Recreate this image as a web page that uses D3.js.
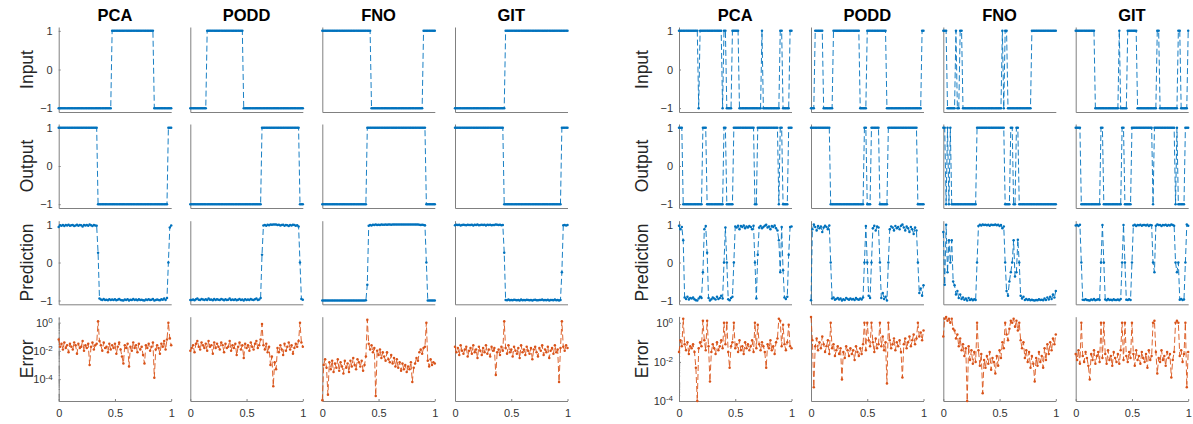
<!DOCTYPE html>
<html>
<head>
<meta charset="utf-8">
<script src="https://cdn.jsdelivr.net/npm/d3@7"></script>
<style>
  body { margin: 0; background: #fff; }
  text { font-family: "Liberation Sans", Arial, Helvetica, sans-serif; }
</style>
</head>
<body>
<svg id="chart" width="1193" height="424"></svg>
<script>
// ---- data ----
var methods = ["PCA", "PODD", "FNO", "GIT"],
    rowNames = ["Input", "Output", "Prediction", "Error"],
    xTicks = [0, 0.5, 1],
    stepTicks = [-1, 0, 1],
    errTicks = [0, -2, -4],      // log10 of the error tick values
    nSamples = 81;

// step signals: starting level and the x positions where the sign flips
var leftInStart = [-1, -1, 1, -1],
    leftInFlips = [[0.47, 0.85], [0.14, 0.47], [0.43, 0.9], [0.44]],
    leftOutStart = [1, -1, -1, 1],
    leftOutFlips = [[0.345, 0.975], [0.636, 0.967], [0.395, 0.92], [0.437, 0.94]];

var rightInStart = [1, -1, 1, 1],
    rightInFlips = [
        [0.165, 0.187, 0.38, 0.40, 0.418, 0.47, 0.53, 0.73, 0.745, 0.9, 0.925, 0.98],
        [0.036, 0.104, 0.19, 0.436, 0.5, 0.668, 0.985],
        [0.036, 0.104, 0.12, 0.15, 0.172, 0.513, 0.53, 0.545, 0.57, 0.786],
        [0.17, 0.38, 0.40, 0.46, 0.54, 0.72, 0.74, 0.91, 0.93, 0.99]
    ],
    rightOutStart = [1, 1, 1, 1],
    rightOutFlips = [
        [0.035, 0.21, 0.24, 0.40, 0.42, 0.48, 0.67, 0.69, 0.88, 0.9, 0.92, 0.97],
        [0.17, 0.475, 0.49, 0.53, 0.61, 0.68, 0.94],
        [0.015, 0.03, 0.05, 0.06, 0.075, 0.29, 0.55, 0.6, 0.615, 0.65, 0.665],
        [0.04, 0.22, 0.24, 0.41, 0.43, 0.49, 0.68, 0.69, 0.88, 0.9, 0.91, 0.97]
    ];

// pointwise error, stored as 10 * log10(error), one value per sample
var leftErrPCA = [
    -12,-17,-15,-19,-14,-18,-16,-21,-15,-17,
    -19,-14,-16,-22,-15,-18,-17,-13,-20,-16,
    -18,-15,-30,-17,-14,-19,-16,-15,1,-13,
    -16,-20,-14,-18,-17,-21,-15,-19,-16,-18,
    -15,-22,-17,-14,-19,-24,-29,-16,-18,-15,
    -31,-17,-20,-14,-18,-16,-21,-15,-19,-17,
    -23,-29,-16,-18,-15,-20,-17,-14,-39,-19,
    -16,-18,-22,-15,-17,-13,-19,-12,0,-11,
    -16];
var leftErrPODD = [
    -20,-18,-16,-21,-15,-13,-17,-19,-14,-16,
    -18,-15,-20,-13,-17,-16,-22,-14,-18,-15,
    -17,-19,-14,-16,-21,-15,-18,-17,-13,-20,
    -16,-18,-15,-23,-17,-14,-19,-16,-25,-15,
    -18,-16,-20,-14,-17,-19,-15,-13,-18,-16,
    -12,-1,-16,-19,-15,-21,-17,-30,-24,-45,
    -28,-33,-18,-21,-16,-19,-23,-15,-20,-17,
    -14,-19,-16,-22,-18,-15,-17,-13,0,-14,
    -17];
var leftErrFNO = [
    -55,-30,-26,-32,-51,-28,-33,-27,-35,-29,
    -32,-26,-34,-28,-31,-36,-27,-32,-29,-35,
    -27,-31,-25,-30,-33,-26,-28,-31,-27,-34,
    -30,-24,2,-15,-19,-16,-21,-18,-52,-20,
    -23,-19,-25,-21,-24,-27,-21,-26,-28,-23,
    -29,-25,-31,-26,-32,-28,-34,-29,-33,-30,
    -35,-31,-33,-28,-42,-32,-29,-25,-27,-21,
    -19,-22,-18,-17,0,-27,-31,-26,-30,-28,
    -29];
var leftErrGIT = [
    -17,-21,-18,-23,-16,-20,-22,-19,-17,-24,
    -20,-18,-22,-16,-21,-19,-25,-17,-20,-23,
    -18,-21,-16,-22,-19,-24,-17,-20,-18,-37,
    -21,-19,-23,-17,-20,1,-18,-22,-16,-21,
    -19,-24,-17,-20,-22,-18,-25,-16,-21,-19,
    -23,-17,-20,-22,-18,-26,-19,-17,-21,-24,
    -18,-20,-16,-23,-19,-21,-17,-25,-20,-18,
    -22,-16,-21,-19,-42,-18,1,-17,-20,-16,
    -18];

var rightErrPCA = [
    -15,-9,-12,2,-11,-14,-10,-16,-12,-13,
    -11,-15,-23,-40,-13,-10,-12,1,-9,-14,
    1,-12,-30,-15,-11,-13,-16,-10,-14,-12,
    -9,-13,0,-11,0,-15,-23,-12,-10,0,
    -13,-11,-15,-9,-14,-12,-16,-10,-13,-11,
    -14,-12,-9,-15,0,-13,-1,-11,-14,-10,
    -12,-15,-23,-11,-13,-9,-14,-12,-16,-10,
    -8,2,1,-12,-1,-11,-14,-10,-1,-12,
    -13];
var rightErrPODD = [
    3,-9,-33,-12,-8,-14,-10,-13,-7,-11,
    -15,-12,-9,-16,0,-13,-11,-17,-14,-12,
    -16,-13,-29,-15,-18,-12,-14,-17,-13,-16,
    -14,-19,-12,-15,-17,-13,-16,-11,0,-14,
    0,-9,-12,0,-10,-15,-8,-13,-11,0,
    -12,-7,-14,-10,-31,0,-9,-13,-11,-8,
    -14,-10,-12,-9,-15,-28,-11,-8,-13,-10,
    -7,-12,-9,-6,-11,-8,0,-7,-5,-9,
    -4];
var rightErrFNO = [
    -7,2,3,1,2,0,2,-3,-4,-8,
    -6,-12,-8,-14,-11,-17,-13,-40,-12,-19,
    -14,-21,-15,-20,0,-14,-22,-16,-36,-19,
    -23,-17,-21,-15,-24,-18,-20,-26,-17,-22,
    -14,-18,-10,-13,0,-6,-9,-3,1,0,
    2,-2,1,-4,0,-9,-13,-10,-18,-14,
    -20,-15,-23,-17,-21,-30,-18,-22,-15,-20,
    -17,-23,-13,-19,-11,-16,-10,-14,-8,-11,
    -6];
var rightErrGIT = [
    -16,-19,-14,-21,0,-17,-20,-15,-18,-22,
    -29,-16,-19,-14,-21,-17,-15,-20,0,-18,
    0,-16,-21,-14,-19,-17,-22,-15,-18,-20,
    -16,-21,-14,0,-19,0,-17,-20,-15,-18,
    0,-16,-22,-14,-19,-17,-21,-15,-18,-20,
    -16,-23,-14,-19,-17,0,1,-15,-26,-18,
    -20,-14,-19,-17,-22,-15,-18,-16,-28,-19,
    -15,0,1,0,-17,-14,-20,-16,0,-33,
    -15];

// ---- layout ----
var svg = d3.select("#chart"),
    blue = "#0072BD",
    orange = "#D95319",
    axisColor = "#808080",
    labelColor = "#333",
    colW = 112.5,
    rowTop = [27, 124, 220.7, 316.7],
    rowH = [85, 84, 83.6, 84.3];

var panels = [
    { colX: [58.7, 190.3, 322.3, 455], labelX: 33, errLog: [-5.55, 0.42],
      inStart: leftInStart, inFlips: leftInFlips, outStart: leftOutStart, outFlips: leftOutFlips,
      err: [leftErrPCA, leftErrPODD, leftErrFNO, leftErrGIT] },
    { colX: [679, 811, 943.3, 1075.7], labelX: 648, errLog: [-4, 0.31],
      inStart: rightInStart, inFlips: rightInFlips, outStart: rightOutStart, outFlips: rightOutFlips,
      err: [rightErrPCA, rightErrPODD, rightErrFNO, rightErrGIT] }
];

var tGrid = d3.range(nSamples).map(function (i) { return i / (nSamples - 1); });

function sampleStep(start, flips) {
    return tGrid.map(function (t) {
        var n = flips.filter(function (f) { return f <= t; }).length;
        return n % 2 ? -start : start;
    });
}

function drawSeries(g, vals, x, y, color) {
    var pts = tGrid.map(function (t, i) { return [x(t), y(vals[i])]; });
    g.append("path")
        .attr("d", d3.line()(pts))
        .attr("fill", "none")
        .attr("stroke", color)
        .attr("stroke-width", 0.9)
        .attr("stroke-dasharray", "6,3");
    g.selectAll(null).data(pts).enter().append("circle")
        .attr("cx", function (d) { return d[0]; })
        .attr("cy", function (d) { return d[1]; })
        .attr("r", 1.25)
        .attr("fill", color);
}

function styleAxis(sel) {
    sel.select(".domain").attr("stroke", axisColor);
    sel.selectAll(".tick line").attr("stroke", axisColor);
    sel.selectAll(".tick text").attr("fill", labelColor).attr("font-size", 11)
        .attr("font-family", "\"Liberation Sans\", Arial, sans-serif");
}

panels.forEach(function (p) {
    // titles
    methods.forEach(function (m, c) {
        svg.append("text")
            .attr("x", p.colX[c] + colW / 2).attr("y", 20.5)
            .attr("text-anchor", "middle")
            .attr("font-size", 16.5).attr("font-weight", "bold")
            .attr("fill", "#000")
            .text(m);
    });
    // row labels
    rowNames.forEach(function (name, r) {
        var cy = rowTop[r] + rowH[r] / 2;
        svg.append("text")
            .attr("transform", "translate(" + p.labelX + "," + cy + ") rotate(-90)")
            .attr("text-anchor", "middle")
            .attr("font-size", 17.5)
            .attr("fill", "#262626")
            .text(name);
    });

    methods.forEach(function (m, c) {
        var x0 = p.colX[c],
            x = d3.scaleLinear().domain([0, 1]).range([x0, x0 + colW]),
            input = sampleStep(p.inStart[c], p.inFlips[c]),
            output = sampleStep(p.outStart[c], p.outFlips[c]),
            err = p.err[c].map(function (v) { return Math.pow(10, v / 10); }),
            pred = output.map(function (o, i) { return o * (1 - err[i]); }),
            rows = [input, output, pred];

        for (var r = 0; r < 4; r++) {
            var top = rowTop[r], bot = rowTop[r] + rowH[r],
                g = svg.append("g"),
                y;
            if (r < 3) {
                y = d3.scaleLinear().domain([-1.1, 1.1]).range([bot, top]);
            } else {
                y = d3.scaleLog().domain([Math.pow(10, p.errLog[0]), Math.pow(10, p.errLog[1])]).range([bot, top]);
            }

            // axes
            var yAx = d3.axisLeft(y).tickSizeOuter(0);
            if (c === 0 && r < 3) {
                yAx.tickValues(stepTicks).tickSizeInner(-2).tickPadding(6).tickFormat(d3.format("d"));
            } else if (c === 0) {
                yAx.tickValues(errTicks.map(function (e) { return Math.pow(10, e); }))
                    .tickSizeInner(-2).tickPadding(6).tickFormat(function () { return ""; });
            } else {
                yAx.tickValues([]);
            }
            var ya = g.append("g").attr("transform", "translate(" + x0 + ",0)").call(yAx).call(styleAxis);

            if (c === 0 && r === 3) {
                // superscript labels 10^k
                ya.selectAll(".tick").each(function (d) {
                    var t = d3.select(this).select("text").attr("dy", "0.32em");
                    t.append("tspan").text("10");
                    t.append("tspan").attr("dy", "-0.45em").attr("font-size", 8)
                        .text(String(Math.round(Math.log10(d))));
                });
                // minor ticks
                var minors = [];
                for (var k = Math.floor(p.errLog[0]); k < Math.ceil(p.errLog[1]); k++) {
                    for (var j = 2; j < 10; j++) {
                        var v = j * Math.pow(10, k);
                        if (v > Math.pow(10, p.errLog[0]) && v < Math.pow(10, p.errLog[1])) minors.push(v);
                    }
                }
                g.append("g").attr("transform", "translate(" + x0 + ",0)")
                    .call(d3.axisLeft(y).tickValues(minors).tickSizeInner(-1.2).tickSizeOuter(0).tickFormat(""))
                    .call(function (s) { s.select(".domain").remove(); s.selectAll("line").attr("stroke", axisColor); });
            }

            var xAx = d3.axisBottom(x).tickSizeOuter(0);
            if (r === 3) {
                xAx.tickValues(xTicks).tickSizeInner(-2).tickPadding(8)
                    .tickFormat(function (d) { return String(d); });
            } else {
                xAx.tickValues([]);
            }
            g.append("g").attr("transform", "translate(0," + bot + ")").call(xAx).call(styleAxis);

            // data
            if (r < 3) drawSeries(g, rows[r], x, y, blue);
            else drawSeries(g, err, x, y, orange);
        }
    });
});
</script>
</body>
</html>
